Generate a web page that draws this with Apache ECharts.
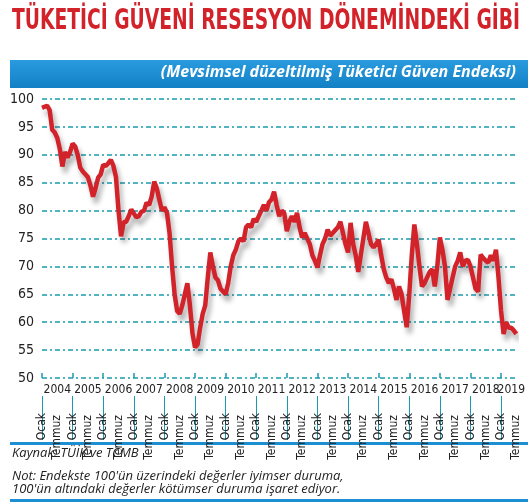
<!DOCTYPE html>
<html>
<head>
<meta charset="utf-8">
<script src="https://cdn.jsdelivr.net/npm/echarts@6/dist/echarts.min.js"></script>
<style>
  html, body { margin: 0; padding: 0; background: #fff; }
  #chart { width: 528px; height: 504px; }
</style>
</head>
<body>
<div id="chart"></div>
<script>
// aylik endeks, Ocak 2004 - Temmuz 2019
var years = ['2004','2005','2006','2007','2008','2009','2010','2011','2012','2013','2014','2015','2016','2017','2018','2019'];
var v2004 = [98.4,98.6,98.8,98,94.5,94,93,91,87.9,90.5,89.5,90.5];
var v2005 = [92,91.5,90,87.7,87,86.5,86,84.5,82.5,84,85.9,86.5];
var v2006 = [88.2,88,88.5,89.1,88,86,80,75.4,77.9,78,79,80.2];
var v2007 = [79.5,78.8,79,79.8,80,81.4,81,82.5,85.2,84,82,80];
var v2008 = [80.6,79.6,76,70,65,62,61.5,63,65,67,63,58];
var v2009 = [55.5,56,59,61.5,63,68,72.5,70,68,67.5,66,65.5];
var v2010 = [65,67,70,72,73,74.5,75,74.5,77,77.5,77,78.5];
var v2011 = [78,79,80,81,80,81.5,82,83.4,81,79,80,79.5];
var v2012 = [76.3,78,79,78,79.6,77,75.2,76,75,74,72,71];
var v2013 = [69.8,72,74,75,76.6,75.5,76,76.5,77,78,76,74];
var v2014 = [72.5,77.8,74,72,69,72,75,78,76,74,73.4,74];
var v2015 = [74.8,72,69.5,68,67,67.7,66,64,66.4,65,62,59.1];
var v2016 = [65,72,77.5,74,70,66.4,67,68,69,69.5,66.4,70];
var v2017 = [75.2,73,70,64,66,68,70,71,72.5,70,71,71.2];
var v2018 = [70,68,66,65.5,72.1,71.5,71,70.7,72,71,73,68];
var v2019 = [62,57.9,60,59,59,58.5,57.9];

var values = [].concat(v2004,v2005,v2006,v2007,v2008,v2009,v2010,v2011,v2012,v2013,v2014,v2015,v2016,v2017,v2018,v2019);
var months = [];
for (var i = 0; i < values.length; i++) {
  var m = i % 12 + 1;
  months.push(years[Math.floor(i / 12)] + '-' + (m < 10 ? '0' + m : m));
}

var blue = '#1b8fd2';
var cond = '"DejaVu Sans Condensed", "Liberation Sans Narrow", sans-serif';
var titleText = 'TÜKETİCİ GÜVENİ RESESYON DÖNEMİNDEKİ GİBİ';
var titleFont = 'bold 28px ' + cond;

// basligi 508px genislige sigdir
var ctx = document.createElement('canvas').getContext('2d');
ctx.font = titleFont;
var titleScale = 508 / ctx.measureText(titleText).width;

var chart = echarts.init(document.getElementById('chart'));
var option = {
  backgroundColor: '#fff',
  animation: false,
  graphic: [
    { type: 'text', x: 12, y: 8, scaleX: titleScale,
      style: { text: titleText, fill: '#d3232a', font: titleFont } },
    { type: 'rect', shape: { x: 10, y: 60, width: 518, height: 28 },
      style: { fill: new echarts.graphic.LinearGradient(0, 0, 0, 1, [{ offset: 0, color: '#2a9be0' }, { offset: 1, color: '#1380c4' }]) } },
    { type: 'text', right: 12, top: 64,
      style: { text: '(Mevsimsel düzeltilmiş Tüketici Güven Endeksi)', fill: '#fff',
        font: 'italic bold 16px "Open Sans", sans-serif' } },
    { type: 'rect', shape: { x: 10, y: 442, width: 518, height: 3 }, style: { fill: blue } },
    { type: 'text', left: 12, top: 447,
      style: { text: 'Kaynak: TÜİK ve TCMB', fill: '#222', font: 'italic 13px "Open Sans", sans-serif' } },
    { type: 'text', left: 12, top: 470,
      style: { text: "Not: Endekste 100'ün üzerindeki değerler iyimser duruma,\n100'ün altındaki değerler kötümser duruma işaret ediyor.",
        fill: '#222', lineHeight: 13, font: 'italic 13px "Open Sans", sans-serif' } },
    { type: 'rect', shape: { x: 10, y: 499, width: 518, height: 3 }, style: { fill: blue } }
  ],
  grid: { left: 42, right: 4, top: 99, bottom: 126, containLabel: false },
  xAxis: [
    {
      type: 'category', data: months, boundaryGap: false,
      axisLine: { show: false },
      axisTick: { show: true, inside: true, length: 5, interval: function (i) { return i % 12 === 0; },
        lineStyle: { color: '#1a9ab0', width: 1.5 } },
      axisLabel: { interval: function (i) { return i % 12 === 6 || i === 184; },
        formatter: function (v) { return v.slice(0, 4); },
        margin: 6, color: '#222', fontFamily: cond, fontSize: 12 },
      splitLine: { show: false }
    },
    {
      type: 'category', data: months, boundaryGap: false, position: 'bottom', offset: 18,
      axisLine: { show: false },
      axisTick: { show: true, length: 44, interval: function (i) { return i % 12 === 0; },
        lineStyle: { color: '#1a9ab0', width: 1 } },
      axisLabel: { show: false }
    },
    {
      type: 'category', data: months, boundaryGap: false, position: 'bottom', offset: 33,
      axisLine: { show: false }, axisTick: { show: false },
      axisLabel: { interval: function (i) { return i % 12 === 0; }, rotate: 90,
        formatter: function () { return 'Ocak'; }, margin: 2, color: '#222', fontFamily: cond, fontSize: 12 }
    },
    {
      type: 'category', data: months, boundaryGap: false, position: 'bottom', offset: 35,
      axisLine: { show: false }, axisTick: { show: false },
      axisLabel: { interval: function (i) { return i % 12 === 6; }, rotate: 90,
        formatter: function () { return 'Temmuz'; }, margin: 2, color: '#222', fontFamily: cond, fontSize: 12 }
    }
  ],
  yAxis: {
    type: 'value', min: 50, max: 100, interval: 5,
    axisLine: { show: false }, axisTick: { show: false },
    axisLabel: { color: '#222', fontFamily: cond, fontSize: 14, margin: 8 },
    splitLine: { lineStyle: { color: '#1a9ab0', type: [5, 3, 2, 3], width: 1.5 } }
  },
  series: [{
    type: 'line', data: values, symbol: 'none',
    lineStyle: { color: '#d3232a', width: 4.5, shadowColor: 'rgba(0,0,0,0.3)', shadowBlur: 5, shadowOffsetX: 3, shadowOffsetY: 6 }
  }]
};
chart.setOption(option);
</script>
</body>
</html>
